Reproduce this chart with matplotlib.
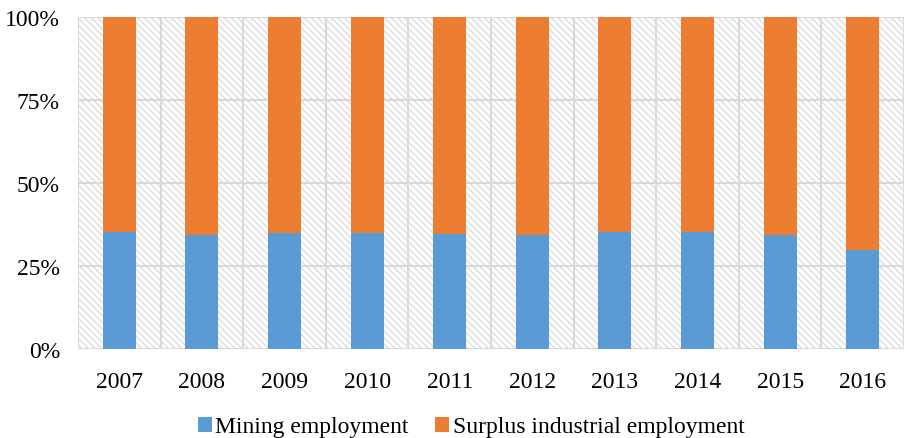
import numpy as np
import matplotlib
matplotlib.use("Agg")
import matplotlib.pyplot as plt
from matplotlib.patches import Rectangle

years = ["2007", "2008", "2009", "2010", "2011", "2012", "2013", "2014", "2015", "2016"]
mining = [0.351, 0.344, 0.348, 0.349, 0.346, 0.344, 0.351, 0.351, 0.344, 0.297]
surplus = [1 - m for m in mining]
yticks = [0.0, 0.25, 0.5, 0.75, 1.0]
ytick_labels = ["0%", "25%", "50%", "75%", "100%"]

blue = "#5B9BD5"
orange = "#ED7D31"
grid_col = "#D9D9D9"

plt.rcParams["font.family"] = ["Liberation Serif", "DejaVu Serif"]
plt.rcParams["hatch.linewidth"] = 1.0
plt.rcParams["hatch.color"] = "#DDDDDD"

fig = plt.figure(figsize=(9.11, 4.39), dpi=100)
ax = fig.add_axes((78 / 911, 89 / 439, 826 / 911, 332 / 439))

x = np.arange(len(years))
n = len(years)

# hatched background
ax.add_patch(Rectangle((-0.5, 0), n, 1, facecolor="white", edgecolor="#DDDDDD",
                       hatch="\\" * 5, linewidth=0, zorder=0))

# grid
for v in yticks:
    ax.axhline(v, color=grid_col, lw=1.5, zorder=1)
for b in np.arange(-0.5, n, 1.0):
    ax.axvline(b, color=grid_col, lw=1.5, zorder=1)

w = 0.4
ax.bar(x, mining, width=w, color=blue, label="Mining employment", zorder=2)
ax.bar(x, surplus, width=w, bottom=mining, color=orange,
       label="Surplus industrial employment", zorder=2)

ax.set_xlim(-0.5, n - 0.5)
ax.set_ylim(0, 1)
ax.set_xticks(x, years)
ax.set_yticks(yticks, ytick_labels)
ax.tick_params(axis="both", length=0, labelsize=17)
ax.tick_params(axis="x", pad=16)
ax.tick_params(axis="y", pad=13)
for s in ax.spines.values():
    s.set_visible(False)

fig.legend(loc="center", bbox_to_anchor=(471 / 911, 1 - 428 / 439), ncol=2,
           frameon=False, fontsize=17, handlelength=0.6, handleheight=0.6,
           handletextpad=0.15, columnspacing=1.1)

fig.savefig("out.png", dpi=100)
